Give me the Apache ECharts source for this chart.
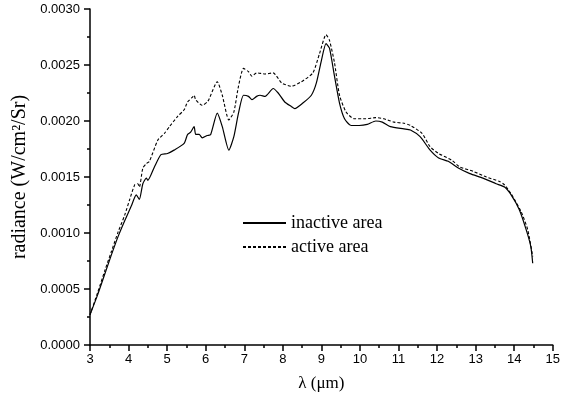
<!DOCTYPE html>
<html>
<head>
<meta charset="utf-8">
<script src="https://cdn.jsdelivr.net/npm/echarts@6/dist/echarts.min.js"></script>
<style>html,body{margin:0;padding:0;background:#fff}#c{width:563px;height:398px}</style>
</head>
<body>
<div id="c"></div>
<script>
const inactiveX = [3.0,3.2,3.39,3.55,3.73,3.9,4.07,4.2,4.28,4.37,4.46,4.5,4.67,4.84,5.01,5.18,5.44,5.53,5.61,5.70,5.74,5.83,5.91,6.04,6.13,6.30,6.43,6.60,6.73,6.85,6.98,7.11,7.20,7.32,7.41,7.54,7.75,7.88,8.05,8.22,8.31,8.52,8.74,8.87,9.00,9.12,9.21,9.34,9.47,9.60,9.77,9.98,10.19,10.41,10.58,10.79,11.14,11.31,11.56,11.82,12.04,12.29,12.55,12.85,13.19,13.53,13.75,13.92,14.13,14.31,14.43,14.48];
const inactiveY = [0.00027,0.00045,0.00064,0.00080,0.00097,0.00111,0.00124,0.00134,0.00130,0.00144,0.00149,0.00147,0.00159,0.00170,0.00171,0.00174,0.00180,0.00188,0.00190,0.00195,0.00188,0.00188,0.00185,0.00187,0.00188,0.00207,0.00195,0.00174,0.00186,0.00207,0.00223,0.00222,0.00219,0.00222,0.00223,0.00222,0.00229,0.00225,0.00217,0.00213,0.00211,0.00216,0.00223,0.00234,0.00254,0.00269,0.00265,0.00240,0.00216,0.00202,0.00196,0.00196,0.00197,0.00200,0.00199,0.00195,0.00193,0.00192,0.00186,0.00174,0.00167,0.00164,0.00158,0.00153,0.00149,0.00144,0.00141,0.00134,0.00121,0.00103,0.00088,0.00073];
const activeX = [3.0,3.2,3.39,3.55,3.73,3.9,4.03,4.16,4.24,4.28,4.37,4.46,4.54,4.76,4.93,5.06,5.27,5.44,5.53,5.65,5.70,5.74,5.91,6.04,6.08,6.30,6.43,6.60,6.73,6.85,6.98,7.11,7.20,7.32,7.54,7.75,7.97,8.22,8.48,8.78,8.95,9.12,9.21,9.34,9.47,9.64,9.85,10.15,10.41,10.62,10.88,11.14,11.31,11.61,11.82,12.04,12.38,12.59,12.94,13.28,13.62,13.75,13.92,14.18,14.35,14.48];
const activeY = [0.00027,0.00047,0.00067,0.00083,0.00101,0.00116,0.00130,0.00143,0.00144,0.00141,0.00158,0.00162,0.00164,0.00183,0.00189,0.00195,0.00204,0.00210,0.00217,0.00221,0.00223,0.00219,0.00214,0.00217,0.00219,0.00235,0.00223,0.00201,0.00208,0.00231,0.00247,0.00244,0.00240,0.00243,0.00242,0.00243,0.00234,0.00231,0.00235,0.00243,0.00260,0.00277,0.00272,0.00252,0.00223,0.00208,0.00202,0.00202,0.00203,0.00202,0.00199,0.00198,0.00196,0.00189,0.00177,0.00171,0.00165,0.00159,0.00155,0.00150,0.00146,0.00143,0.00135,0.00119,0.00103,0.00079];
const seriesNames = ['inactive area', 'active area'];
const xTicks = {min: 3, max: 15, interval: 1};
const yTicks = {min: 0, max: 0.003, interval: 0.0005};

const zip = (xs, ys) => xs.map((x, i) => [x, ys[i]]);
const chart = echarts.init(document.getElementById('c'), null, {renderer: 'canvas'});
const axisCommon = {
  axisLine: {show: true, lineStyle: {color: '#000', width: 1.5}},
  axisTick: {show: true, inside: false, length: 6, lineStyle: {color: '#000', width: 1.5}},
  minorTick: {show: true, splitNumber: 2, length: 3, lineStyle: {color: '#000', width: 1.5}},
  splitLine: {show: false}
};
chart.setOption({
  animation: false,
  backgroundColor: '#fff',
  grid: {left: 90, right: 6, top: 9, bottom: 53, containLabel: false},
  legend: {
    orient: 'vertical', left: 237, top: 209, itemWidth: 43, itemHeight: 14, itemGap: 6,
    itemStyle: {opacity: 0},
    textStyle: {fontFamily: 'Liberation Serif', fontSize: 18, color: '#000'},
    data: seriesNames
  },
  xAxis: Object.assign({}, axisCommon, {
    type: 'value', min: xTicks.min, max: xTicks.max, interval: xTicks.interval,
    name: 'λ (μm)', nameLocation: 'middle', nameGap: 30,
    nameTextStyle: {fontFamily: 'Liberation Serif', fontSize: 17, color: '#000'},
    axisLabel: {color: '#000', fontFamily: 'Liberation Sans', fontSize: 13, margin: 8}
  }),
  yAxis: Object.assign({}, axisCommon, {
    type: 'value', min: yTicks.min, max: yTicks.max, interval: yTicks.interval,
    name: 'radiance (W/cm²/Sr)', nameLocation: 'middle', nameGap: 60, nameRotate: 90,
    nameTextStyle: {fontFamily: 'Liberation Serif', fontSize: 20, color: '#000'},
    axisLabel: {color: '#000', fontFamily: 'Liberation Sans', fontSize: 13, margin: 10,
      formatter: v => v.toFixed(4)}
  }),
  series: [
    {name: seriesNames[0], type: 'line', data: zip(inactiveX, inactiveY), showSymbol: false, symbol: 'none',
     smooth: 0.2, lineStyle: {color: '#000', width: 1.2, type: 'solid'}, itemStyle: {color: '#000'}},
    {name: seriesNames[1], type: 'line', data: zip(activeX, activeY), showSymbol: false, symbol: 'none',
     smooth: 0.2, lineStyle: {color: '#000', width: 1.1, type: [3, 2]}, itemStyle: {color: '#000'}}
  ]
});
</script>
</body>
</html>
